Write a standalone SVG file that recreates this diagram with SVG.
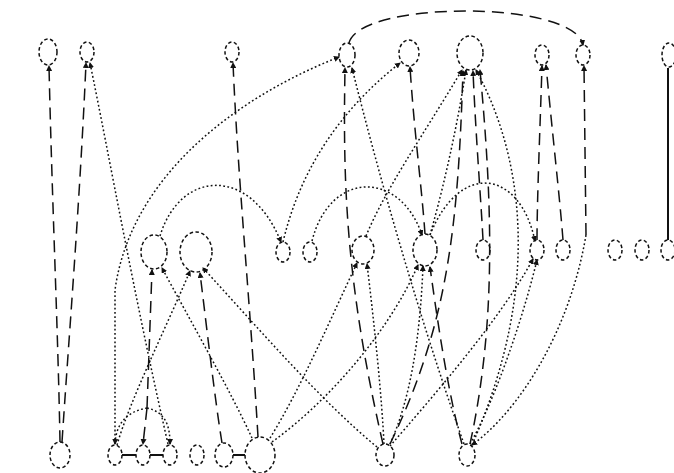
<svg xmlns="http://www.w3.org/2000/svg" width="674" height="473" viewBox="0 0 674 473">
<defs>
<marker id="a" viewBox="0 0 6 6" refX="5" refY="3" markerWidth="4" markerHeight="4" orient="auto"><path d="M0,0 L6,3 L0,6 z" fill="#111"/></marker>
<style>
.n ellipse{fill:none;stroke:#111;stroke-width:1.5;stroke-dasharray:3.5,2.5}
.e path{fill:none;stroke:#111;stroke-width:1.5}
.e .d{stroke-dasharray:12,7;marker-end:url(#a)}
.e .t{stroke-dasharray:1.8,2.4;marker-end:url(#a)}
.e .s{stroke-width:2}
</style>
</defs>
<rect width="674" height="473" fill="#fff"/>
<g id="edges" class="e">
<path class="d" d="M 60 442 C 58 330, 52 200, 49 66"/>
<path class="d" d="M 62 442 C 68 350, 80 200, 86 63"/>
<path class="d" d="M 258 437 C 250 300, 238 180, 233 63"/>
<path class="d" d="M 349 43 C 360 0, 575 0, 583 45"/>
<path class="d" d="M 383 444 C 345 280, 343 180, 345 68"/>
<path class="d" d="M 425 234 C 422 190, 414 130, 410 67"/>
<path class="d" d="M 483 240 C 481 200, 476 140, 473 71"/>
<path class="d" d="M 470 444 C 497 320, 492 200, 480 70"/>
<path class="d" d="M 390 444 C 450 320, 458 220, 463 71"/>
<path class="d" d="M 537 240 C 537 200, 540 130, 542 66"/>
<path class="d" d="M 563 240 C 560 200, 552 130, 546 65"/>
<path class="d" d="M 586 235 L 584 66"/>
<path class="t" d="M 586 235 C 570 330, 520 410, 472 445"/>
<path class="d" d="M 147 408 L 152 270"/>
<path class="d" d="M 147 408 L 143 444"/>
<path class="t" d="M 147 408 C 125 412, 116 425, 115 444"/>
<path class="t" d="M 147 408 C 165 412, 170 425, 170 444"/>
<path class="d" d="M 222 443 C 215 400, 207 330, 200 273"/>
<path class="d" d="M 462 444 C 450 400, 440 340, 430 267"/>
<path class="s" d="M 668 68 L 668 240"/>
<path class="s" d="M 122 455 L 136 455"/>
<path class="s" d="M 150 455 L 163 455"/>
<path class="s" d="M 233 455 L 245 455"/>
<path class="t" d="M 168 444 C 135 300, 110 160, 90 63"/>
<path class="t" d="M 115 444 L 115 290 C 130 180, 230 100, 339 57"/>
<path class="t" d="M 283 242 C 300 170, 340 110, 400 63"/>
<path class="t" d="M 464 444 C 420 320, 380 180, 352 68"/>
<path class="t" d="M 366 236 C 385 190, 420 140, 462 70"/>
<path class="t" d="M 430 235 C 440 200, 455 140, 466 70"/>
<path class="t" d="M 472 445 C 545 280, 520 150, 476 70"/>
<path class="t" d="M 160 236 C 180 170, 250 165, 281 242"/>
<path class="t" d="M 312 241 C 330 170, 400 170, 422 235"/>
<path class="t" d="M 430 235 C 460 160, 520 170, 535 241"/>
<path class="t" d="M 252 438 C 230 390, 190 320, 162 268"/>
<path class="t" d="M 117 445 C 130 400, 165 330, 190 271"/>
<path class="t" d="M 377 447 C 320 400, 260 330, 203 268"/>
<path class="t" d="M 270 438 C 300 390, 330 320, 357 263"/>
<path class="t" d="M 272 442 C 330 400, 390 330, 418 265"/>
<path class="t" d="M 384 444 C 382 400, 375 330, 367 264"/>
<path class="t" d="M 390 444 C 410 400, 420 340, 423 266"/>
<path class="t" d="M 390 446 C 430 400, 500 320, 533 259"/>
<path class="t" d="M 470 444 C 490 410, 520 330, 537 260"/>
</g>
<g class="n">
<g id="n1"><ellipse cx="48" cy="52" rx="9" ry="13"/></g>
<g id="n2"><ellipse cx="87" cy="52" rx="7" ry="10"/></g>
<g id="n3"><ellipse cx="232" cy="52" rx="7" ry="10"/></g>
<g id="n4"><ellipse cx="347" cy="55" rx="8" ry="12"/></g>
<g id="n5"><ellipse cx="409" cy="53" rx="10" ry="13"/></g>
<g id="n6"><ellipse cx="470" cy="53" rx="13" ry="17"/></g>
<g id="n7"><ellipse cx="542" cy="55" rx="7" ry="10"/></g>
<g id="n8"><ellipse cx="583" cy="55" rx="7" ry="10"/></g>
<g id="n9"><ellipse cx="669" cy="55" rx="7" ry="12"/></g>
<g id="m1"><ellipse cx="154" cy="252" rx="13" ry="17"/></g>
<g id="m2"><ellipse cx="196" cy="252" rx="16" ry="20"/></g>
<g id="m3"><ellipse cx="283" cy="252" rx="7" ry="10"/></g>
<g id="m4"><ellipse cx="310" cy="252" rx="7" ry="10"/></g>
<g id="m5"><ellipse cx="363" cy="250" rx="11" ry="14"/></g>
<g id="m6"><ellipse cx="425" cy="250" rx="12" ry="16"/></g>
<g id="m7"><ellipse cx="483" cy="250" rx="7" ry="10"/></g>
<g id="m8"><ellipse cx="537" cy="250" rx="7" ry="10"/></g>
<g id="m9"><ellipse cx="563" cy="250" rx="7" ry="10"/></g>
<g id="m10"><ellipse cx="615" cy="250" rx="7" ry="10"/></g>
<g id="m11"><ellipse cx="642" cy="250" rx="7" ry="10"/></g>
<g id="m12"><ellipse cx="668" cy="250" rx="7" ry="10"/></g>
<g id="b1"><ellipse cx="60" cy="455" rx="10" ry="13"/></g>
<g id="b2"><ellipse cx="115" cy="455" rx="7" ry="10"/></g>
<g id="b3"><ellipse cx="143" cy="455" rx="7" ry="10"/></g>
<g id="b4"><ellipse cx="170" cy="455" rx="7" ry="10"/></g>
<g id="b5"><ellipse cx="197" cy="455" rx="7" ry="10"/></g>
<g id="b6"><ellipse cx="224" cy="455" rx="9" ry="12"/></g>
<g id="b7"><ellipse cx="260" cy="455" rx="15" ry="18"/></g>
<g id="b8"><ellipse cx="385" cy="455" rx="9" ry="11"/></g>
<g id="b9"><ellipse cx="467" cy="455" rx="8" ry="11"/></g>
</g>
</svg>
